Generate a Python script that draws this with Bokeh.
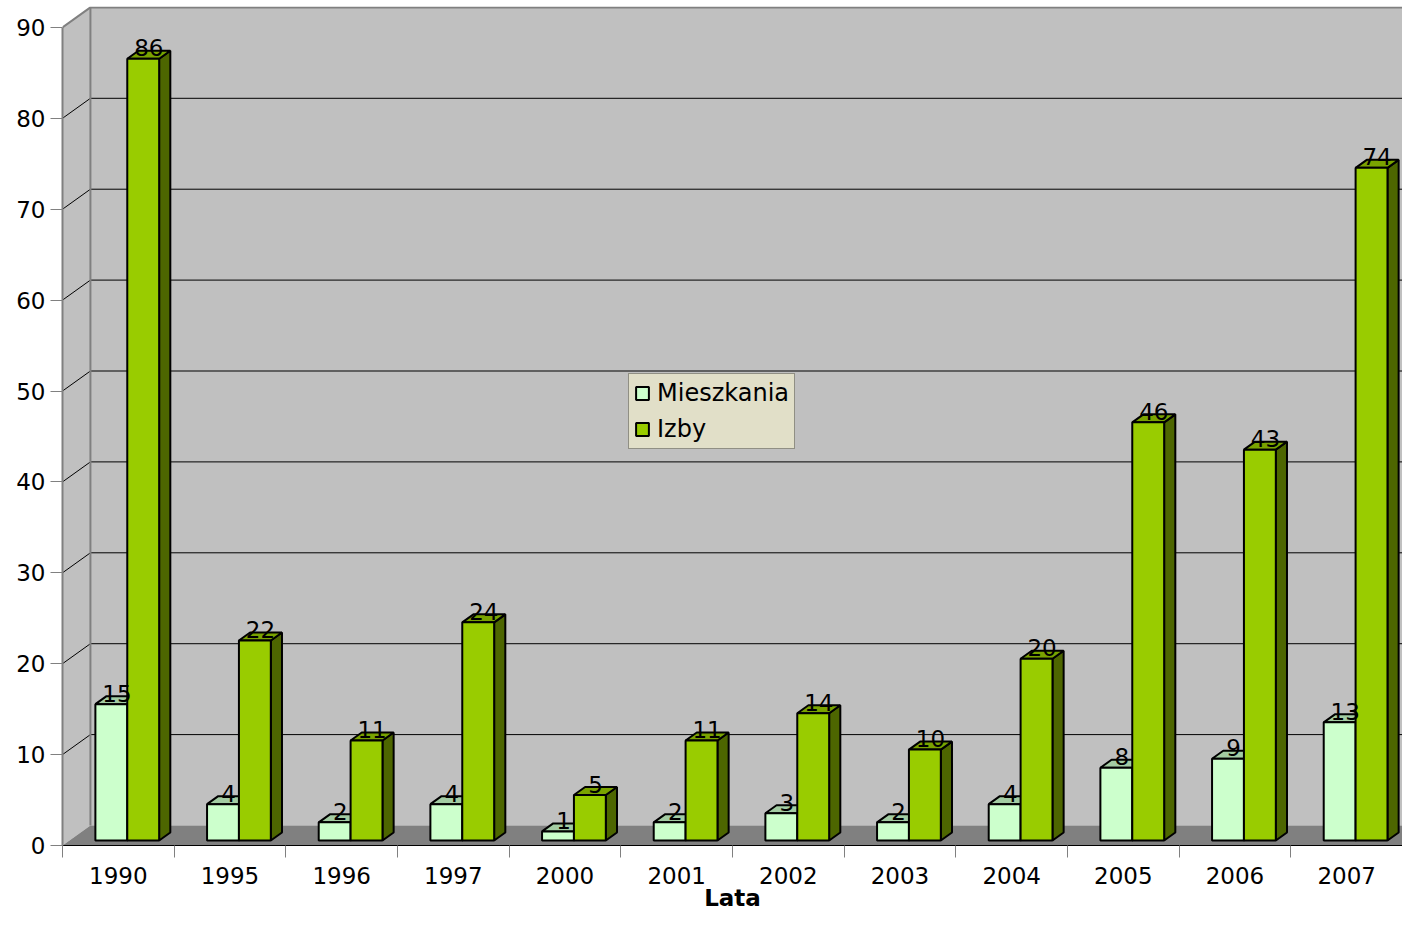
import numpy as np
from bokeh.plotting import figure
from bokeh.models import FixedTicker, Legend, LegendItem, Range1d
from bokeh.core.properties import value
from bokeh.embed import file_html
from bokeh.resources import INLINE

# ---- data ----
years = ["1990", "1995", "1996", "1997", "2000", "2001", "2002", "2003",
         "2004", "2005", "2006", "2007"]
mieszkania = [15, 4, 2, 4, 1, 2, 3, 2, 4, 8, 9, 13]
izby = [86, 22, 11, 24, 5, 11, 14, 10, 20, 46, 43, 74]
y_ticks = [0, 10, 20, 30, 40, 50, 60, 70, 80, 90]
x_title = "Lata"

# ---- style / geometry constants ----
FONT = "DejaVu Sans"
FS = "23px"
DX, DY = 0.25, 2.2         # depth offset of the back wall (data units)
F0, FD = 0.25, 0.40        # bar front-face depth fraction, bar depth fraction
BAR_OFF = 0.232            # bar group offset inside a category
BAR_W = 0.2855             # width of one bar
n = len(years)
idx = np.arange(n)
YMAX = y_ticks[-1]

p = figure(width=1402, height=913, output_backend="svg", toolbar_location=None,
           x_range=Range1d(0, 12.0), y_range=Range1d(0, 92.3),
           min_border_left=62, min_border_right=0, min_border_top=6,
           min_border_bottom=68)
p.background_fill_color = "white"
p.border_fill_color = "white"
p.outline_line_color = None
p.xgrid.visible = False
p.ygrid.visible = False

FAR = 30
# back wall
p.patch([DX, FAR, FAR, DX], [DY, DY, YMAX + DY, YMAX + DY],
        fill_color="#c0c0c0", line_color=None)
# left wall
p.patch([0, DX, DX, 0], [0, DY, YMAX + DY, YMAX],
        fill_color="#c0c0c0", line_color=None)
# floor
p.patch([0, n, n + DX, DX], [0, 0, DY, DY], fill_color="#808080", line_color=None)
p.line([n, n + DX], [0, DY], line_color="black", line_width=1)

# gridlines on walls
gv = np.array(y_ticks[1:-1], dtype=float)
p.segment(x0=[DX] * len(gv), y0=gv + DY, x1=[FAR] * len(gv), y1=gv + DY,
          line_color="black", line_width=1)
p.segment(x0=[0] * len(gv), y0=gv, x1=[DX] * len(gv), y1=gv + DY,
          line_color="black", line_width=1)
# wall borders
p.line([0, DX, FAR], [YMAX, YMAX + DY, YMAX + DY], line_color="#808080", line_width=2)
p.line([DX, DX], [DY, YMAX + DY], line_color="#808080", line_width=2)

s0x, s0y = F0 * DX, F0 * DY
s1x, s1y = (F0 + FD) * DX, (F0 + FD) * DY


def bar3d(x0, h, front, top, side):
    x0 = np.asarray(x0, dtype=float)
    h = np.asarray(h, dtype=float)
    x1 = x0 + BAR_W
    side_xs = [[a + s0x, a + s1x, a + s1x, a + s0x] for a in x1]
    side_ys = [[s0y, s1y, v + s1y, v + s0y] for v in h]
    top_xs = [[a + s0x, b + s0x, b + s1x, a + s1x] for a, b in zip(x0, x1)]
    top_ys = [[v + s0y, v + s0y, v + s1y, v + s1y] for v in h]
    p.patches(side_xs, side_ys, fill_color=side, line_color="black", line_width=2)
    p.patches(top_xs, top_ys, fill_color=top, line_color="black", line_width=2)
    r = p.quad(left=x0 + s0x, right=x1 + s0x, bottom=s0y, top=h + s0y,
               fill_color=front, line_color="black", line_width=2)
    return r


r_m = bar3d(idx + BAR_OFF, mieszkania, "#ccffcc", "#a3cca3", "#7a997a")
r_i = bar3d(idx + BAR_OFF + BAR_W, izby, "#99cc00", "#7aa300", "#4d6600")

# value labels
for x0, vals in ((idx + BAR_OFF, mieszkania), (idx + BAR_OFF + BAR_W, izby)):
    v = np.asarray(vals, dtype=float)
    p.text(x=x0 + BAR_W / 2 + (F0 + FD / 2) * DX, y=v + s0y + 0.22,
           text=[str(int(a)) for a in v], text_align="center",
           text_baseline="alphabetic", y_offset=-9, text_font=value(FONT),
           text_font_size=FS, text_color="black")

# axes
p.xaxis.ticker = FixedTicker(ticks=list(idx + 0.5), minor_ticks=list(range(n + 1)))
p.xaxis.major_label_overrides = {float(i + 0.5): y for i, y in enumerate(years)}
p.xaxis.major_tick_line_color = None
p.xaxis.major_tick_out = 12
p.xaxis.major_tick_in = 0
p.xaxis.minor_tick_line_color = "#808080"
p.xaxis.minor_tick_out = 12
p.xaxis.minor_tick_in = 0
p.xaxis.axis_line_color = "black"
p.xaxis.major_label_standoff = 9
p.xaxis.major_label_text_font = FONT
p.xaxis.major_label_text_font_size = FS
p.xaxis.major_label_text_color = "black"
p.xaxis.axis_label = x_title
p.xaxis.axis_label_text_font = FONT
p.xaxis.axis_label_text_font_size = FS
p.xaxis.axis_label_text_font_style = "bold"
p.xaxis.axis_label_text_color = "black"
p.xaxis.axis_label_standoff = -2

p.yaxis.ticker = FixedTicker(ticks=y_ticks, minor_ticks=[])
p.yaxis.bounds = (0, YMAX)
p.yaxis.axis_line_color = "#808080"
p.yaxis.axis_line_width = 2
p.yaxis.major_tick_line_color = "#808080"
p.yaxis.major_tick_out = 12
p.yaxis.major_tick_in = 0
p.yaxis.minor_tick_line_color = None
p.yaxis.major_label_standoff = 5
p.yaxis.major_label_text_font = FONT
p.yaxis.major_label_text_font_size = FS
p.yaxis.major_label_text_color = "black"

legend = Legend(items=[LegendItem(label="Mieszkania", renderers=[r_m]),
                       LegendItem(label="Izby", renderers=[r_i])],
                location=(566, 396), orientation="vertical")
legend.background_fill_color = "#e1dfc8"
legend.background_fill_alpha = 1
legend.border_line_color = "#404040"
legend.border_line_width = 1
legend.label_text_font = FONT
legend.label_text_font_size = "24px"
legend.label_text_color = "black"
legend.glyph_width = 16
legend.glyph_height = 16
legend.label_standoff = 7
legend.label_height = 28
legend.padding = 5
legend.spacing = 8
legend.margin = 0
p.add_layout(legend)

open("out.html", "w").write(file_html(p, INLINE))
